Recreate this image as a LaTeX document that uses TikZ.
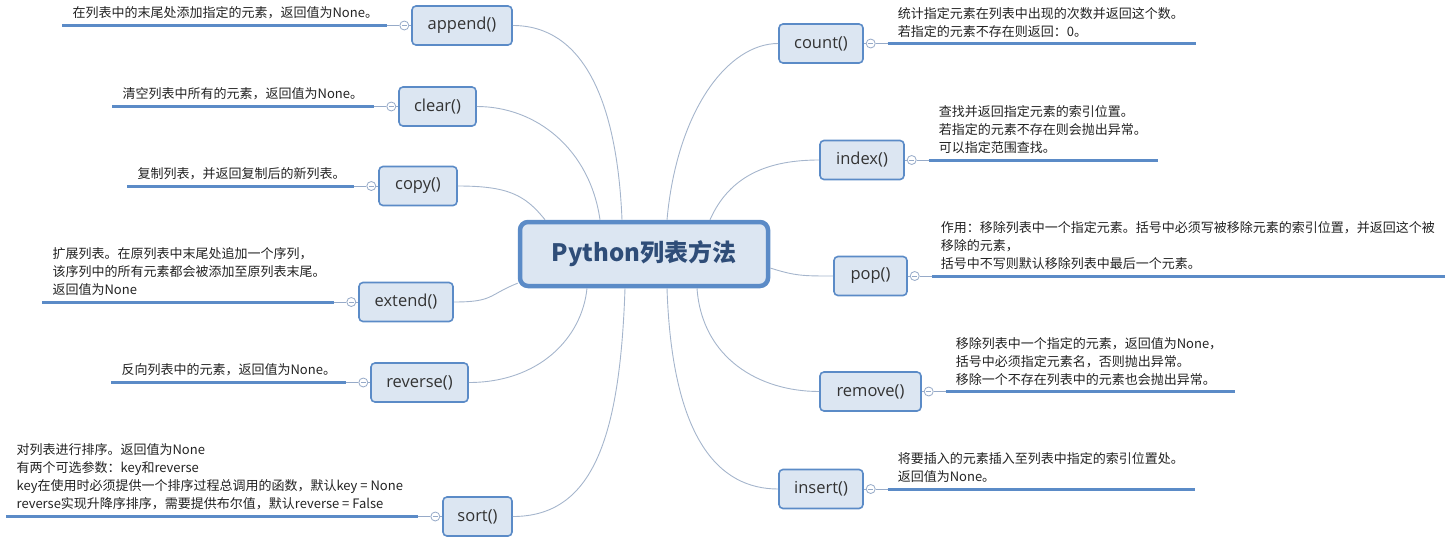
\documentclass[tikz,border=0pt]{standalone}
\usepackage{fontspec}
\setmainfont{Noto Sans CJK SC}
\newfontfamily\methodfont{Open Sans}
\usepackage{tikz}
\usetikzlibrary{positioning}

\definecolor{boxfill}{RGB}{220,230,242}
\definecolor{boxline}{RGB}{91,139,199}
\definecolor{titletext}{RGB}{47,77,120}
\definecolor{linkgray}{RGB}{165,181,204}
\definecolor{folddraw}{RGB}{150,170,200}
\definecolor{desctext}{RGB}{34,34,34}
\definecolor{methodtext}{RGB}{51,51,51}

\begin{document}
\begin{tikzpicture}[x=1pt, y=-1pt,
  root/.style={rectangle, draw=boxline, line width=4.5pt, rounded corners=8pt,
               fill=boxfill, minimum width=248pt, minimum height=64pt,
               font=\fontsize{24}{28}\selectfont\bfseries, text=titletext},
  method/.style={rectangle, draw=boxline, line width=1.6pt, rounded corners=4pt,
                 fill=boxfill, minimum height=39pt, minimum width=#1,
                 inner xsep=0pt, font=\methodfont\fontsize{16.5}{20}\selectfont,
                 text=methodtext},
  method/.default={80pt},
  link/.style={draw=linkgray, line width=0.9pt},
  uline/.style={draw=boxline, line width=3pt},
  stub/.style={draw=folddraw, line width=0.8pt},
  fold/.style={circle, draw=folddraw, fill=white, line width=0.8pt,
               minimum size=9pt, inner sep=0pt,
               path picture={\draw[folddraw, line width=0.7pt]
                 ([xshift=-2.5pt]path picture bounding box.center) --
                 ([xshift=2.5pt]path picture bounding box.center);}},
  desc/.style={font=\fontsize{13}{18}\selectfont, text=desctext,
               align=left, inner sep=0pt}
]
  \useasboundingbox (0,0) rectangle (1454,544);

  % Root
  \node[root] (root) at (644,254) {Python列表方法};

  % append()
  \node[method=100pt] (append) at (462,25.5) {append()};
  \node[fold, left=2pt of append] (append-f) {};
  \coordinate[left=12pt of append-f] (append-e);
  \coordinate[left=325pt of append-e] (append-s);
  \draw[uline] (append-s) -- (append-e);
  \draw[stub] (append-e) -- (append-f) -- (append);
  \node[desc, above right=6pt and 10pt of append-s] (append-d)
    {在列表中的末尾处添加指定的元素，返回值为None。};

  % clear()
  \node[method=77pt] (clear) at (437.5,106.5) {clear()};
  \node[fold, left=2pt of clear] (clear-f) {};
  \coordinate[left=12pt of clear-f] (clear-e);
  \coordinate[left=262pt of clear-e] (clear-s);
  \draw[uline] (clear-s) -- (clear-e);
  \draw[stub] (clear-e) -- (clear-f) -- (clear);
  \node[desc, above right=6pt and 10pt of clear-s] (clear-d)
    {清空列表中所有的元素，返回值为None。};

  % copy()
  \node[method=78pt] (copy) at (418,186) {copy()};
  \node[fold, left=2pt of copy] (copy-f) {};
  \coordinate[left=12pt of copy-f] (copy-e);
  \coordinate[left=227pt of copy-e] (copy-s);
  \draw[uline] (copy-s) -- (copy-e);
  \draw[stub] (copy-e) -- (copy-f) -- (copy);
  \node[desc, above right=6pt and 10pt of copy-s] (copy-d)
    {复制列表，并返回复制后的新列表。};

  % extend()
  \node[method=94pt] (extend) at (406,302) {extend()};
  \node[fold, left=2pt of extend] (extend-f) {};
  \coordinate[left=12pt of extend-f] (extend-e);
  \coordinate[left=292pt of extend-e] (extend-s);
  \draw[uline] (extend-s) -- (extend-e);
  \draw[stub] (extend-e) -- (extend-f) -- (extend);
  \node[desc, above right=6pt and 10pt of extend-s] (extend-d)
    {扩展列表。在原列表中末尾处追加一个序列，\\
     该序列中的所有元素都会被添加至原列表末尾。\\
     返回值为None};

  % reverse()
  \node[method=97pt] (reverse) at (419.5,382.5) {reverse()};
  \node[fold, left=2pt of reverse] (reverse-f) {};
  \coordinate[left=12pt of reverse-f] (reverse-e);
  \coordinate[left=235pt of reverse-e] (reverse-s);
  \draw[uline] (reverse-s) -- (reverse-e);
  \draw[stub] (reverse-e) -- (reverse-f) -- (reverse);
  \node[desc, above right=6pt and 10pt of reverse-s] (reverse-d)
    {反向列表中的元素，返回值为None。};

  % sort()
  \node[method=69pt] (sort) at (477.5,516.5) {sort()};
  \node[fold, left=2pt of sort] (sort-f) {};
  \coordinate[left=12pt of sort-f] (sort-e);
  \coordinate[left=412pt of sort-e] (sort-s);
  \draw[uline] (sort-s) -- (sort-e);
  \draw[stub] (sort-e) -- (sort-f) -- (sort);
  \node[desc, above right=6pt and 10pt of sort-s] (sort-d)
    {对列表进行排序。返回值为None\\
     有两个可选参数：key和reverse\\
     key在使用时必须提供一个排序过程总调用的函数，默认key = None\\
     reverse实现升降序排序，需要提供布尔值，默认reverse = False};

  % count()
  \node[method=84pt] (count) at (821,43.5) {count()};
  \node[fold, right=2pt of count] (count-f) {};
  \coordinate[right=12pt of count-f] (count-e);
  \coordinate[right=308pt of count-e] (count-s);
  \draw[uline] (count-e) -- (count-s);
  \draw[stub] (count) -- (count-f) -- (count-e);
  \node[desc, above right=6pt and 10pt of count-e] (count-d)
    {统计指定元素在列表中出现的次数并返回这个数。\\
     若指定的元素不存在则返回：0。};

  % index()
  \node[method=84pt] (index) at (862,160) {index()};
  \node[fold, right=2pt of index] (index-f) {};
  \coordinate[right=12pt of index-f] (index-e);
  \coordinate[right=229pt of index-e] (index-s);
  \draw[uline] (index-e) -- (index-s);
  \draw[stub] (index) -- (index-f) -- (index-e);
  \node[desc, above right=6pt and 10pt of index-e] (index-d)
    {查找并返回指定元素的索引位置。\\
     若指定的元素不存在则会抛出异常。\\
     可以指定范围查找。};

  % pop()
  \node[method=73pt] (pop) at (870.5,276) {pop()};
  \node[fold, right=2pt of pop] (pop-f) {};
  \coordinate[right=12pt of pop-f] (pop-e);
  \coordinate[right=513pt of pop-e] (pop-s);
  \draw[uline] (pop-e) -- (pop-s);
  \draw[stub] (pop) -- (pop-f) -- (pop-e);
  \node[desc, above right=6pt and 9pt of pop-e] (pop-d)
    {作用：移除列表中一个指定元素。括号中必须写被移除元素的索引位置，并返回这个被\\
     移除的元素，\\
     括号中不写则默认移除列表中最后一个元素。};

  % remove()
  \node[method=101pt] (remove) at (870.5,391.5) {remove()};
  \node[fold, right=2pt of remove] (remove-f) {};
  \coordinate[right=12pt of remove-f] (remove-e);
  \coordinate[right=289pt of remove-e] (remove-s);
  \draw[uline] (remove-e) -- (remove-s);
  \draw[stub] (remove) -- (remove-f) -- (remove-e);
  \node[desc, above right=6pt and 10pt of remove-e] (remove-d)
    {移除列表中一个指定的元素，返回值为None，\\
     括号中必须指定元素名，否则抛出异常。\\
     移除一个不存在列表中的元素也会抛出异常。};

  % insert()
  \node[method=84pt] (insert) at (821,489) {insert()};
  \node[fold, right=2pt of insert] (insert-f) {};
  \coordinate[right=12pt of insert-f] (insert-e);
  \coordinate[right=307pt of insert-e] (insert-s);
  \draw[uline] (insert-e) -- (insert-s);
  \draw[stub] (insert) -- (insert-f) -- (insert-e);
  \node[desc, above right=6pt and 10pt of insert-e] (insert-d)
    {将要插入的元素插入至列表中指定的索引位置处。\\
     返回值为None。};

  % Links from root
  \draw[link] ([xshift=-22pt]root.north) .. controls +(-5,-120) and +(70,0) .. (append.east);
  \draw[link] ([xshift=-44pt]root.north) .. controls +(-10,-70) and +(60,0) .. (clear.east);
  \draw[link] ([xshift=-99pt]root.north) .. controls +(-20,-25) and +(50,0) .. (copy.east);
  \draw[link] (root.193) .. controls +(-30,12) and +(40,0) .. (extend.east);
  \draw[link] ([xshift=-57pt]root.south) .. controls +(-5,50) and +(70,0) .. (reverse.east);
  \draw[link] ([xshift=-19pt]root.south) .. controls +(-5,150) and +(80,0) .. (sort.east);
  \draw[link] ([xshift=23pt]root.north) .. controls +(10,-110) and +(-50,0) .. (count.west);
  \draw[link] ([xshift=66pt]root.north) .. controls +(20,-45) and +(-50,0) .. (index.west);
  \draw[link] ([yshift=-14pt]root.east) .. controls +(25,8) and +(-30,0) .. (pop.west);
  \draw[link] ([xshift=53pt]root.south) .. controls +(5,70) and +(-60,0) .. (remove.west);
  \draw[link] ([xshift=23pt]root.south) .. controls +(5,150) and +(-60,0) .. (insert.west);
\end{tikzpicture}
\end{document}
